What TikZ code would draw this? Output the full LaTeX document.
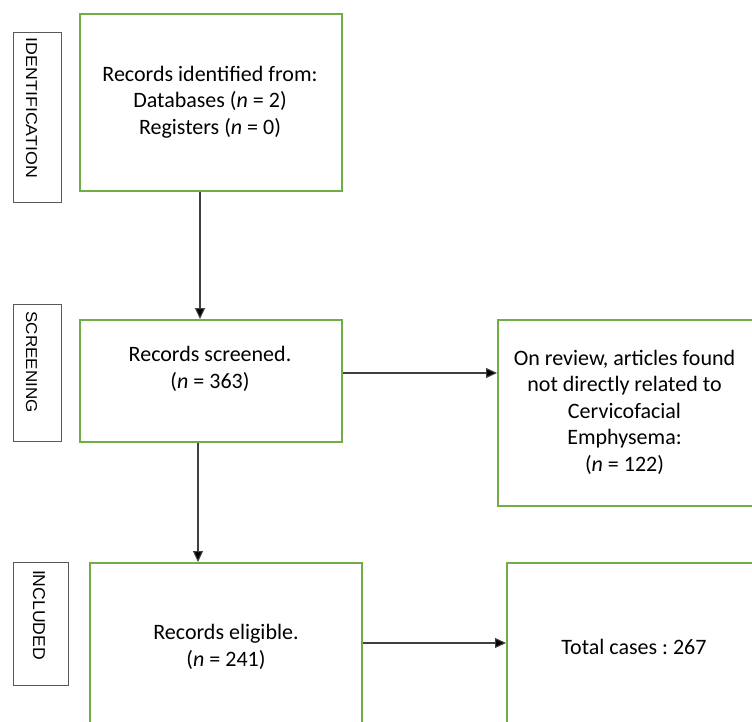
\documentclass[tikz,border=0pt]{standalone}
\usepackage{fontspec}
\setmainfont{Carlito}
\newfontfamily\labfont{Liberation Sans}
\usetikzlibrary{arrows.meta}
\frenchspacing
\definecolor{boxgreen}{HTML}{70AD47}
\definecolor{labgray}{HTML}{595959}
\definecolor{arrgray}{HTML}{404040}
\tikzset{
  gbox/.style={draw=boxgreen, line width=2pt, fill=white, inner sep=0pt, anchor=north west},
  lbox/.style={draw=labgray, line width=0.8pt, inner sep=0pt, anchor=north west},
  btext/.style={align=center, font=\fontsize{22}{26.5}\selectfont, inner sep=0pt},
  ltext/.style={rotate=-90, inner sep=0pt, font=\labfont\fontsize{13.5}{14}\selectfont},
  arr/.style={draw=arrgray, line width=1.1pt, -{Triangle[length=11pt,width=10pt,fill=black]}}
}
\begin{document}
\begin{tikzpicture}[x=1pt,y=-1pt]
\clip (0,0) rectangle (752,722);
\fill[white] (0,0) rectangle (752,722);
% label boxes
\node[lbox, minimum width=48pt, minimum height=170pt] (lid) at (13,32) {};
\node[lbox, minimum width=48pt, minimum height=137pt] (lscr) at (13,304) {};
\node[lbox, minimum width=55pt, minimum height=123pt] (linc) at (13,562) {};
\node[ltext] (tlid) at (31.5,108) {\resizebox{140pt}{11pt}{IDENTIFICATION}};
\node[ltext] (tlscr) at (31.5,362) {\resizebox{101pt}{11pt}{SCREENING}};
\node[ltext] (tlinc) at (39,615) {\resizebox{90pt}{12pt}{INCLUDED}};
% main boxes
\node[gbox, minimum width=262pt, minimum height=177pt] (id) at (79,13) {};
\node[gbox, minimum width=262pt, minimum height=122pt] (scr) at (79,319) {};
\node[gbox, minimum width=258pt, minimum height=186pt] (excl) at (497,319) {};
\node[gbox, minimum width=272pt, minimum height=190pt] (elig) at (89,562) {};
\node[gbox, minimum width=256pt, minimum height=190pt] (tot) at (506,562) {};
% texts
\node[btext] (tid) at (210,102) {Records identified from:\\Databases (\textit{n} = 2)\\Registers (\textit{n} = 0)};
\node[btext] (tscr) at (210,369) {Records screened.\\(\textit{n} = 363)};
\node[btext] (texcl) at (624.5,412) {On review, articles found\\not directly related to\\Cervicofacial\\Emphysema:\\(\textit{n} = 122)};
\node[btext] (telig) at (226,647) {Records eligible.\\(\textit{n} = 241)};
\node[btext] (ttot) at (634,647) {Total cases : 267};
% arrows
\coordinate (a1) at ([xshift=-11pt]id.south);
\draw[arr] (a1) -- (a1 |- scr.north);
\coordinate (a2) at ([xshift=-13pt]scr.south);
\draw[arr] (a2) -- (a2 |- elig.north);
\coordinate (a3) at ([yshift=8pt]scr.east);
\draw[arr] (a3) -- (a3 -| excl.west);
\coordinate (a4) at ([yshift=-81pt]elig.north east);
\draw[arr] (a4) -- (a4 -| tot.west);
\end{tikzpicture}
\end{document}
